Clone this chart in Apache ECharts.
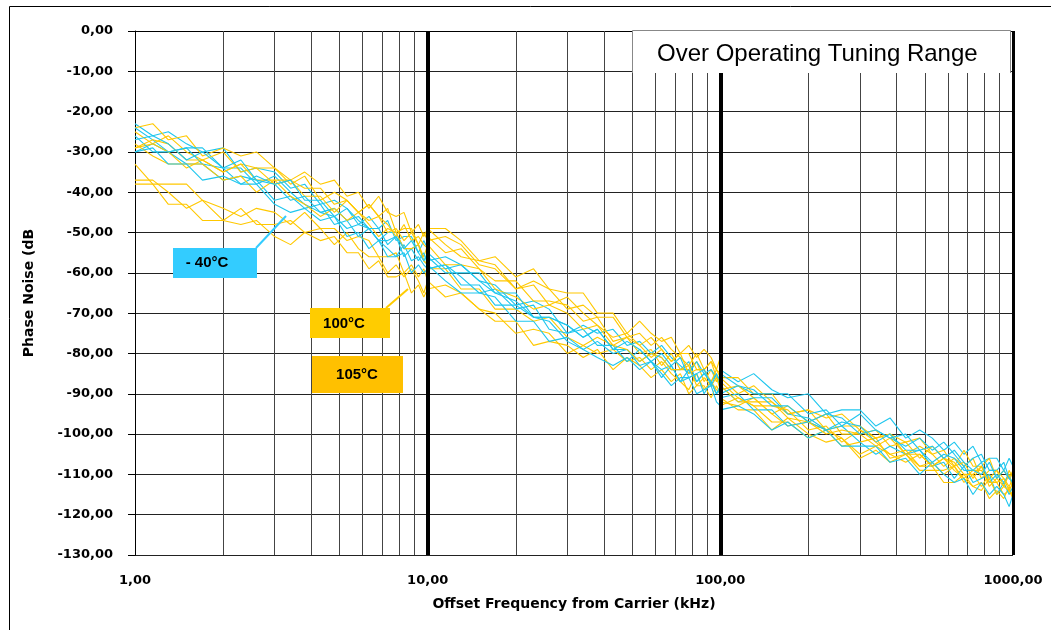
<!DOCTYPE html>
<html>
<head>
<meta charset="utf-8">
<script src="https://cdn.jsdelivr.net/npm/echarts@6/dist/echarts.min.js"></script>
<style>
html,body{margin:0;padding:0;background:#fff;}
#chart{width:1051px;height:630px;}
</style>
</head>
<body>
<div id="chart"></div>
<script>
// Frequency points (kHz), one list per decade sweep
const freqDecade1 = [1,1.15,1.3,1.5,1.7,2,2.3,2.6,3,3.4,3.8,4.3,4.8,5.3,5.8,6.3,6.8,7.3,7.8,8.3,8.8,9.3,9.7,10];
const freqDecade2 = [10,11.5,13,15,17,20,23,26,30,34,38,43,48,53,58,63,68,73,78,83,88,93,97,100];
const freqDecade3 = [100,115,130,150,170,200,230,260,300,340,380,430,480,530,580,630,680,730,780,830,880,930,970,1000];

// Hot (100°C / 105°C) traces, dB
const hot1 = [-24,-23,-27,-26,-31,-29,-31,-30,-34,-37,-35,-38,-37,-41,-40,-44,-41,-45,-46,-45,-50,-48,-51,-49,
  -49,-49,-52,-57,-56,-61,-59,-64,-65,-65,-70,-70,-75,-72,-75,-77,-76,-80,-78,-81,-79,-81,-84,-81,
  -86,-86,-90,-90,-95,-94,-96,-95,-99,-101,-100,-102,-101,-105,-104,-108,-104,-108,-108,-106,-111,-109,-111,-109];
const hot2 = [-25,-28,-26,-30,-32,-30,-35,-34,-34,-38,-36,-42,-40,-42,-45,-43,-46,-44,-50,-49,-49,-53,-50,-52,
  -52,-51,-53,-58,-59,-64,-62,-64,-69,-68,-71,-71,-76,-75,-78,-76,-79,-81,-83,-80,-84,-82,-84,-85,
  -89,-88,-91,-95,-93,-97,-95,-100,-100,-99,-103,-102,-106,-103,-106,-108,-107,-111,-108,-111,-109,-111,-113,-111];
const hot3 = [-29,-28,-30,-34,-32,-35,-33,-37,-37,-37,-41,-41,-45,-42,-45,-47,-46,-50,-49,-52,-50,-53,-56,-53,
  -51,-55,-54,-59,-62,-62,-67,-67,-68,-72,-71,-77,-76,-78,-81,-79,-82,-80,-85,-84,-84,-87,-84,-86,
  -87,-91,-93,-93,-94,-99,-98,-102,-99,-102,-105,-107,-105,-108,-106,-109,-111,-109,-109,-112,-112,-111,-114,-115];
const hot4 = [-28,-31,-33,-33,-33,-37,-36,-40,-37,-41,-43,-46,-44,-47,-45,-48,-51,-49,-50,-54,-54,-53,-57,-58,
  -53,-58,-58,-59,-64,-66,-69,-68,-70,-74,-73,-78,-79,-82,-80,-81,-84,-84,-83,-88,-86,-88,-86,-89,
  -93,-91,-93,-97,-97,-101,-99,-101,-105,-103,-105,-104,-108,-107,-110,-108,-111,-113,-114,-111,-115,-113,-114,-116];
const hot5 = [-29,-27,-28,-32,-32,-35,-33,-34,-38,-37,-39,-39,-43,-42,-45,-43,-46,-48,-51,-48,-52,-51,-53,-54,
  -49,-53,-56,-57,-58,-64,-63,-68,-66,-70,-73,-76,-75,-78,-76,-79,-82,-80,-80,-84,-84,-82,-86,-87,
  -88,-92,-92,-92,-96,-97,-100,-99,-100,-103,-101,-105,-105,-108,-106,-107,-110,-110,-108,-113,-111,-113,-110,-114];
const hot6 = [-33,-38,-38,-38,-42,-44,-46,-44,-45,-48,-45,-49,-49,-52,-51,-52,-56,-56,-55,-60,-58,-61,-59,-62,
  -59,-59,-64,-64,-69,-69,-72,-71,-76,-78,-76,-78,-76,-80,-79,-83,-80,-84,-84,-82,-87,-84,-87,-85,
  -86,-90,-88,-92,-95,-94,-99,-98,-98,-101,-100,-105,-103,-105,-108,-106,-108,-106,-111,-109,-109,-113,-109,-111];
const hot7 = [-38,-38,-43,-43,-47,-47,-48,-47,-51,-53,-50,-52,-51,-55,-55,-59,-57,-61,-61,-60,-65,-63,-66,-64,
  -64,-63,-65,-69,-70,-75,-74,-75,-80,-78,-80,-79,-82,-81,-84,-82,-85,-87,-89,-85,-89,-87,-89,-90,
  -92,-93,-91,-95,-98,-97,-99,-103,-102,-101,-106,-105,-109,-109,-109,-108,-112,-110,-113,-110,-112,-115,-114,-112];
const hot8 = [-37,-37,-40,-44,-42,-47,-44,-48,-48,-47,-50,-49,-53,-50,-54,-56,-56,-60,-58,-61,-59,-62,-65,-62,
  -62,-66,-65,-69,-72,-72,-78,-77,-78,-81,-79,-84,-81,-83,-86,-84,-87,-85,-90,-88,-88,-91,-88,-90,
  -91,-94,-94,-99,-96,-100,-102,-101,-106,-104,-107,-105,-108,-108,-112,-112,-110,-113,-112,-116,-114,-116,-113,-116];

// Cold (-40°C) traces, dB
const cold1 = [-23,-26,-25,-28,-30,-29,-35,-34,-35,-39,-38,-43,-42,-44,-48,-46,-49,-47,-52,-51,-51,-55,-52,-54,
  -57,-56,-58,-62,-63,-68,-67,-69,-75,-73,-75,-74,-78,-77,-80,-78,-81,-83,-85,-82,-85,-84,-86,-87,
  -84,-87,-85,-89,-91,-90,-95,-94,-94,-98,-96,-101,-99,-101,-104,-102,-105,-103,-107,-106,-106,-109,-106,-108];
const cold2 = [-24,-27,-30,-29,-29,-34,-34,-38,-36,-40,-43,-45,-44,-47,-46,-49,-52,-50,-50,-54,-54,-53,-57,-58,
  -56,-60,-60,-60,-65,-67,-71,-71,-73,-76,-74,-79,-79,-82,-80,-81,-84,-84,-82,-87,-85,-87,-85,-89,
  -85,-88,-90,-90,-90,-95,-94,-98,-95,-99,-101,-103,-101,-104,-102,-105,-108,-106,-105,-109,-109,-107,-111,-112];
const cold3 = [-30,-28,-30,-33,-33,-37,-36,-37,-42,-41,-44,-43,-48,-47,-51,-49,-52,-54,-56,-53,-57,-56,-58,-59,
  -59,-58,-63,-63,-68,-68,-71,-72,-77,-79,-77,-80,-79,-83,-82,-86,-83,-87,-86,-85,-90,-87,-90,-89,
  -88,-92,-91,-91,-95,-96,-99,-97,-98,-102,-100,-104,-104,-107,-105,-106,-109,-109,-107,-112,-110,-112,-110,-113];
const cold4 = [-26,-30,-30,-29,-33,-34,-38,-36,-38,-42,-41,-45,-46,-49,-48,-49,-52,-52,-51,-56,-54,-57,-55,-58,
  -59,-58,-61,-65,-64,-69,-68,-74,-75,-74,-78,-78,-82,-79,-82,-84,-83,-87,-84,-87,-85,-87,-90,-88,
  -91,-90,-94,-94,-98,-97,-99,-98,-102,-105,-103,-105,-104,-108,-107,-111,-108,-112,-111,-110,-115,-112,-115,-113];
const cold5 = [-30,-29,-33,-33,-37,-36,-38,-38,-43,-45,-44,-47,-46,-51,-50,-54,-52,-56,-56,-55,-60,-58,-60,-59,
  -58,-62,-65,-65,-66,-72,-72,-77,-76,-79,-81,-83,-81,-84,-82,-85,-88,-86,-86,-90,-89,-88,-92,-93,
  -94,-93,-95,-99,-97,-101,-99,-103,-103,-103,-107,-106,-110,-107,-110,-112,-111,-115,-112,-115,-113,-115,-118,-115];
const cold6 = [-27,-26,-28,-32,-30,-34,-32,-37,-38,-37,-42,-42,-46,-44,-47,-49,-49,-53,-51,-54,-52,-55,-57,-55,
  -55,-59,-58,-62,-65,-65,-71,-71,-73,-76,-74,-79,-77,-79,-82,-80,-83,-81,-86,-85,-84,-88,-85,-87,
  -90,-88,-89,-93,-93,-97,-95,-96,-100,-99,-101,-100,-104,-103,-106,-104,-107,-109,-110,-107,-111,-109,-111,-112];

// Axis ticks and labels
const xTicks = [1, 10, 100, 1000];
const xTickLabels = ['1,00', '10,00', '100,00', '1000,00'];
const minorGridX = [2,3,4,5,6,7,8,9,20,30,40,50,60,70,80,90,200,300,400,500,600,700,800,900];
const decadeGridX = [10, 100];
const edgeGridX = [1000];

const freq = freqDecade1.concat(freqDecade2, freqDecade3);
const hotTraces = [hot1, hot2, hot3, hot4, hot5, hot6, hot7, hot8];
const coldTraces = [cold1, cold2, cold3, cold4, cold5, cold6];

const HOT = '#ffc800';
const COLD = '#1ec6ee';

function mk(arr, color) {
  return {
    type: 'line', silent: true, showSymbol: false, symbol: 'none', z: 2,
    lineStyle: { width: 1.1, color: color }, itemStyle: { color: color },
    data: freq.map((f, i) => [f, arr[i]])
  };
}
const series = [];
const order = [hotTraces[5], hotTraces[6], hotTraces[7], coldTraces[0], hotTraces[0], coldTraces[1], hotTraces[1],
  coldTraces[2], hotTraces[2], coldTraces[3], hotTraces[3], coldTraces[4], hotTraces[4], coldTraces[5]];
const colors = [HOT, HOT, HOT, COLD, HOT, COLD, HOT, COLD, HOT, COLD, HOT, COLD, HOT, COLD];
order.forEach((a, i) => series.push(mk(a, colors[i])));

series[0].markLine = {
  silent: true, symbol: 'none', z: 1, animation: false,
  label: { show: false },
  lineStyle: { color: '#444', width: 1, type: 'solid' },
  data: minorGridX.map(v => ({ xAxis: v }))
};
series[series.length - 1].markLine = {
  silent: true, symbol: 'none', z: 5, animation: false,
  label: { show: false },
  lineStyle: { color: '#000', width: 4, type: 'solid' },
  data: decadeGridX.map(v => ({ xAxis: v })).concat(edgeGridX.map(v => ({ xAxis: v, lineStyle: { width: 3, color: '#000' } })))
};

const axisFont = { fontFamily: 'DejaVu Sans', fontWeight: 'bold', fontSize: 13, color: '#000' };
const nameFont = { fontFamily: 'DejaVu Sans', fontWeight: 'bold', fontSize: 14, color: '#000' };

const chart = echarts.init(document.getElementById('chart'), null, { renderer: 'canvas' });
chart.setOption({
  animation: false,
  backgroundColor: '#ffffff',
  grid: { left: 135, right: 38, top: 31, bottom: 75, containLabel: false, outerBoundsMode: 'none' },
  xAxis: {
    type: 'log', logBase: 10, min: 1, max: 1000,
    axisLine: { show: true, lineStyle: { color: '#000', width: 1 } },
    axisTick: { show: true, length: 6, lineStyle: { color: '#000' } },
    splitLine: { show: false },
    axisLabel: Object.assign({ margin: 19, formatter: function (v) {
      const idx = Math.round(Math.log10(v));
      return xTickLabels[idx] !== undefined ? xTickLabels[idx] : '';
    } }, axisFont),
    name: 'Offset Frequency from Carrier (kHz)',
    nameLocation: 'middle', nameGap: 42,
    nameTextStyle: nameFont
  },
  yAxis: {
    type: 'value', min: -130, max: 0, interval: 10,
    axisLine: { show: true, lineStyle: { color: '#000', width: 1 } },
    axisTick: { show: true, length: 7, lineStyle: { color: '#000' } },
    splitLine: { show: true, lineStyle: { color: '#222', width: 1 } },
    axisLabel: Object.assign({ margin: 22, formatter: v => v.toFixed(2).replace('.', ',') }, axisFont),
    name: 'Phase Noise (dB',
    nameLocation: 'middle', nameGap: 99, nameRotate: 90,
    nameTextStyle: nameFont
  },
  series: series,
  graphic: [
    { type: 'line', z: 100, shape: { x1: 9.5, y1: 6.5, x2: 1051, y2: 6.5 }, style: { stroke: '#000', lineWidth: 1 } },
    { type: 'line', z: 100, shape: { x1: 9.5, y1: 6.5, x2: 9.5, y2: 630 }, style: { stroke: '#000', lineWidth: 1 } },
    { type: 'rect', z: 100, shape: { x: 632, y: 30, width: 379, height: 43 }, style: { fill: '#fff', stroke: null } },
    { type: 'polyline', z: 101, shape: { points: [[632.5, 73], [632.5, 30.5], [1010.5, 30.5], [1010.5, 73]] }, style: { stroke: '#888', fill: null, lineWidth: 1 } },
    { type: 'text', z: 102, style: { text: 'Over Operating Tuning Range', x: 657, y: 54, fill: '#000', fontFamily: 'Liberation Sans', fontSize: 24, textAlign: 'left', textVerticalAlign: 'middle' } },

    { type: 'line', z: 100, shape: { x1: 256, y1: 248, x2: 286, y2: 216 }, style: { stroke: '#33ccff', lineWidth: 2 } },
    { type: 'rect', z: 101, shape: { x: 173, y: 248, width: 84, height: 30 }, style: { fill: '#33ccff' } },
    { type: 'text', z: 102, style: { text: '- 40°C', x: 207, y: 263, fill: '#000', fontFamily: 'Liberation Sans', fontWeight: 'bold', fontSize: 15, textAlign: 'center', textVerticalAlign: 'middle' } },

    { type: 'line', z: 100, shape: { x1: 386, y1: 308, x2: 408, y2: 289 }, style: { stroke: '#ffcc00', lineWidth: 2 } },
    { type: 'rect', z: 101, shape: { x: 310, y: 308, width: 80, height: 30 }, style: { fill: '#ffcc00' } },
    { type: 'text', z: 102, style: { text: '100°C', x: 344, y: 324, fill: '#000', fontFamily: 'Liberation Sans', fontWeight: 'bold', fontSize: 15, textAlign: 'center', textVerticalAlign: 'middle' } },

    { type: 'rect', z: 101, shape: { x: 312, y: 356, width: 91, height: 37 }, style: { fill: '#ffc000' } },
    { type: 'text', z: 102, style: { text: '105°C', x: 357, y: 375, fill: '#000', fontFamily: 'Liberation Sans', fontWeight: 'bold', fontSize: 15, textAlign: 'center', textVerticalAlign: 'middle' } }
  ]
});
</script>
</body>
</html>
